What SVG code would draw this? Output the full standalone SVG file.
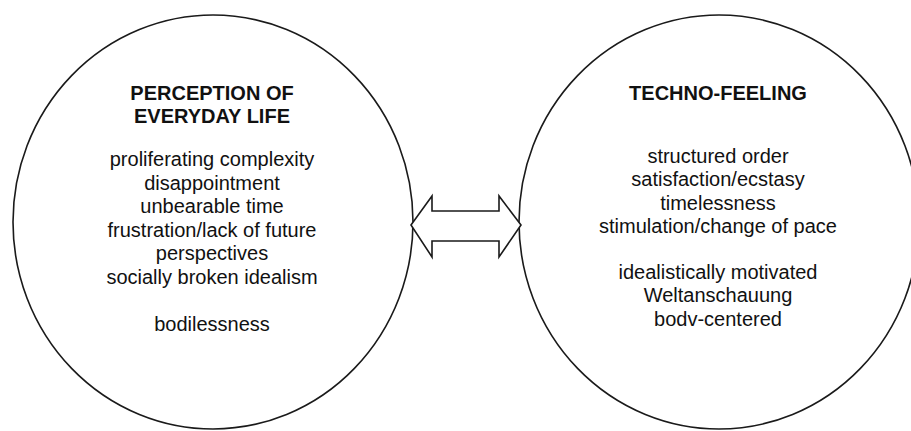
<svg xmlns="http://www.w3.org/2000/svg" width="911" height="431" viewBox="0 0 911 431">
<style>
.node ellipse{fill:#fff;stroke:#1a1a1a;stroke-width:1.6}
.t{font-family:"Liberation Sans",Arial,sans-serif;font-size:20px;fill:#111;text-anchor:middle}
.h{font-weight:bold}
.conn polygon{fill:#fff;stroke:#1a1a1a;stroke-width:1.6;stroke-linejoin:miter}
</style>
<rect width="911" height="431" fill="#fff"/>
<g id="perception" class="node">
<ellipse cx="213" cy="222" rx="200" ry="207"/>
<text class="t h" x="212" y="100">PERCEPTION OF</text>
<text class="t h" x="212" y="123">EVERYDAY LIFE</text>
<text class="t" x="212" y="166">proliferating complexity</text>
<text class="t" x="212" y="190">disappointment</text>
<text class="t" x="212" y="213">unbearable time</text>
<text class="t" x="212" y="237">frustration/lack of future</text>
<text class="t" x="212" y="260">perspectives</text>
<text class="t" x="212" y="284">socially broken idealism</text>
<text class="t" x="212" y="331">bodilessness</text>
</g>
<g id="techno" class="node">
<ellipse cx="719" cy="222" rx="200" ry="207"/>
<text class="t h" x="718" y="100">TECHNO-FEELING</text>
<text class="t" x="718" y="163">structured order</text>
<text class="t" x="718" y="186">satisfaction/ecstasy</text>
<text class="t" x="718" y="210">timelessness</text>
<text class="t" x="718" y="233">stimulation/change of pace</text>
<text class="t" x="718" y="279">idealistically motivated</text>
<text class="t" x="718" y="302">Weltanschauung</text>
<text class="t" x="718" y="326">bodv-centered</text>
</g>
<g id="connectors" class="conn">
<polygon points="411,225 432,196 432,211 499,211 499,196 521,225 499,257 499,241 432,241 432,257"/>
</g>
</svg>
